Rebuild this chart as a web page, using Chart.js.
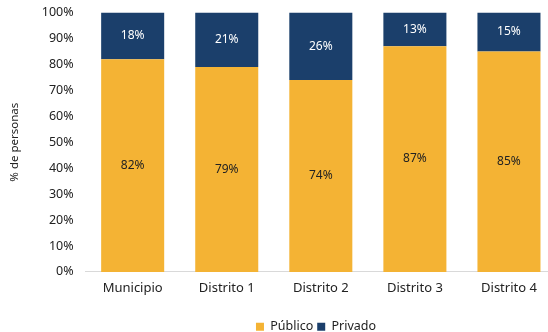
<!DOCTYPE html>
<html lang="es">
<head>
  <meta charset="UTF-8">
  <title>Personas por tipo de servicio</title>
  <script src="https://cdn.jsdelivr.net/npm/chart.js"></script>
  <style>
    html, body { margin: 0; padding: 0; background: #fff; overflow: hidden; }
    #wrap { width: 632px; height: 339px; margin-top: -7px; }
  </style>
</head>
<body>
  <div id="wrap"><canvas id="chart"></canvas></div>
  <script>
    var categories = ['Municipio', 'Distrito 1', 'Distrito 2', 'Distrito 3', 'Distrito 4'];
    var publico = [82, 79, 74, 87, 85];
    var privado = [18, 21, 26, 13, 15];

    var FONT = '"Noto Sans", sans-serif';

    // writes the percentage in the middle of every segment
    var segmentLabels = {
      id: 'segmentLabels',
      afterDatasetsDraw: function (chart) {
        var ctx = chart.ctx;
        ctx.save();
        ctx.font = '12px ' + FONT;
        ctx.textAlign = 'center';
        ctx.textBaseline = 'middle';
        chart.data.datasets.forEach(function (ds, i) {
          var meta = chart.getDatasetMeta(i);
          meta.data.forEach(function (bar, j) {
            var mid = (bar.y + bar.base) / 2;
            ctx.fillStyle = ds.labelColor;
            ctx.fillText(ds.data[j] + '%', bar.x, mid);
          });
        });
        ctx.restore();
      }
    };

    // legend sits lower and centred on the full canvas width
    var legendOffset = {
      id: 'legendOffset',
      afterLayout: function (chart) {
        var lg = chart.legend;
        lg.top += 11;
        lg.bottom += 11;
        lg.left += 34;
        lg.right += 34;
      }
    };

    new Chart(document.getElementById('chart'), {
      type: 'bar',
      data: {
        labels: categories,
        datasets: [{
          label: 'Público',
          data: publico,
          backgroundColor: '#F4B334',
          labelColor: '#222222',
          barPercentage: 0.67,
          categoryPercentage: 1
        }, {
          label: 'Privado',
          data: privado,
          backgroundColor: '#1B3F6B',
          labelColor: '#ffffff',
          barPercentage: 0.67,
          categoryPercentage: 1
        }]
      },
      options: {
        responsive: true,
        maintainAspectRatio: false,
        animation: false,
        layout: { padding: { left: 8, top: 0, right: 76, bottom: 0 } },
        scales: {
          x: {
            stacked: true,
            grid: { display: false, drawTicks: false },
            border: { color: '#d9d9d9' },
            ticks: { color: '#222', font: { family: FONT, size: 13 }, padding: 9 }
          },
          y: {
            stacked: true,
            min: 0,
            max: 100,
            grid: { display: false, drawTicks: false },
            border: { display: false },
            ticks: {
              stepSize: 10,
              color: '#222',
              padding: 12,
              font: { family: FONT, size: 12.5 },
              callback: function (v) { return v + '%'; }
            },
            title: {
              display: true,
              text: '% de personas',
              color: '#222',
              font: { family: FONT, size: 11.5 },
              padding: { top: 0, bottom: 8 }
            }
          }
        },
        plugins: {
          legend: {
            position: 'bottom',
            labels: {
              boxWidth: 8,
              boxHeight: 8,
              padding: 4,
              color: '#222',
              font: { family: FONT, size: 12.5 }
            }
          },
          tooltip: { enabled: false }
        }
      },
      plugins: [segmentLabels, legendOffset]
    });
  </script>
</body>
</html>
